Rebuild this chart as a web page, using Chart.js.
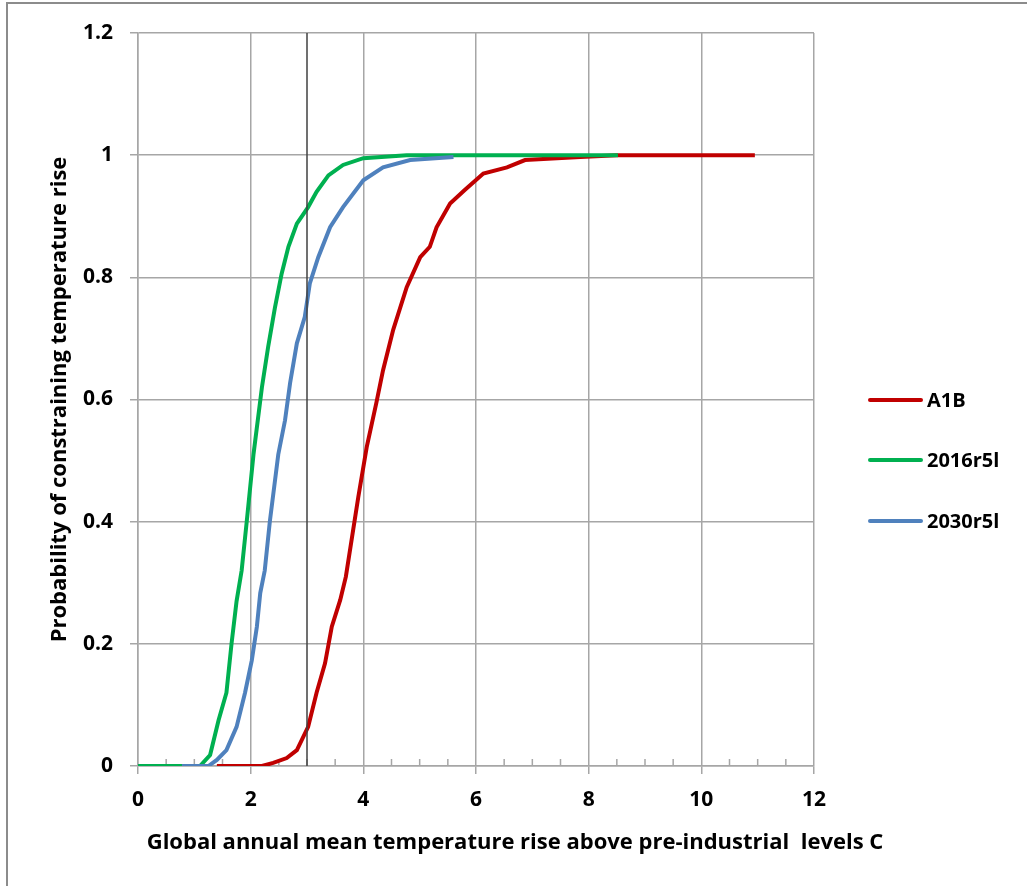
<!DOCTYPE html>
<html>
<head>
<meta charset="utf-8">
<script src="https://cdn.jsdelivr.net/npm/chart.js@4.4.1/dist/chart.umd.min.js"></script>
<style>
  body { margin: 0; background: #fff; }
  canvas { display: block; }
</style>
</head>
<body>
<canvas id="cdf-chart" width="1027" height="886"></canvas>
<script>
// Cumulative probability curves
const seriesNames = ['A1B', '2016r5l', '2030r5l'];
const seriesColors = ['#C00000', '#00B050', '#4F81BD'];

const a1bX = [1.4, 2.2, 2.40, 2.64, 2.82, 3.02, 3.17, 3.32, 3.44, 3.59, 3.69, 3.91, 4.06, 4.23, 4.35, 4.53, 4.77, 5.01, 5.18, 5.30, 5.54, 5.80, 6.13, 6.55, 6.87, 7.85, 8.5, 10.95];
const a1bY = [0, 0, 0.005, 0.013, 0.026, 0.064, 0.12, 0.168, 0.228, 0.272, 0.31, 0.44, 0.522, 0.594, 0.648, 0.714, 0.784, 0.833, 0.85, 0.882, 0.921, 0.943, 0.97, 0.98, 0.992, 0.997, 1, 1];

const r2016X = [0, 1.1, 1.28, 1.43, 1.57, 1.66, 1.75, 1.84, 1.93, 2.05, 2.20, 2.31, 2.43, 2.55, 2.67, 2.82, 3.02, 3.17, 3.38, 3.64, 4.0, 4.77, 8.52];
const r2016Y = [0, 0, 0.018, 0.075, 0.12, 0.20, 0.27, 0.32, 0.40, 0.51, 0.62, 0.686, 0.75, 0.806, 0.85, 0.888, 0.915, 0.94, 0.967, 0.984, 0.995, 1, 1];

const r2030X = [0.78, 1.25, 1.40, 1.57, 1.75, 1.90, 2.02, 2.11, 2.17, 2.25, 2.34, 2.49, 2.61, 2.70, 2.82, 2.96, 3.05, 3.20, 3.41, 3.64, 4.0, 4.35, 4.83, 5.6];
const r2030Y = [0, 0, 0.01, 0.026, 0.064, 0.12, 0.173, 0.228, 0.283, 0.32, 0.40, 0.51, 0.566, 0.627, 0.692, 0.735, 0.79, 0.833, 0.882, 0.915, 0.959, 0.98, 0.992, 0.997];

// vertical marker at 3 degrees
const markerX = [3, 3];
const markerY = [0, 1.2];

const xTitle = 'Global annual mean temperature rise above pre-industrial  levels C';
const yTitle = 'Probability of constraining temperature rise';

const FONT = '"Open Sans", Lato, sans-serif';

function toPoints(xs, ys) {
  return xs.map((x, i) => ({ x: x, y: ys[i] }));
}

// white page with the grey frame on top and left
const framePlugin = {
  id: 'frame',
  beforeDraw(chart) {
    const c = chart.ctx;
    c.save();
    c.fillStyle = '#fff';
    c.fillRect(0, 0, chart.width, chart.height);
    c.fillStyle = '#8c8c8c';
    c.fillRect(6, 2, chart.width - 6, 2);
    c.fillRect(6, 2, 2, chart.height - 2);
    c.restore();
  }
};

// small inner ticks every 0.5 on the x axis
const minorTicks = {
  id: 'minorTicks',
  beforeDatasetsDraw(chart) {
    const xs = chart.scales.x, ys = chart.scales.y;
    const c = chart.ctx;
    const y0 = ys.getPixelForValue(0);
    c.save();
    c.strokeStyle = '#a6a6a6';
    c.lineWidth = 1.5;
    for (let v = 0.5; v < 12; v += 0.5) {
      if (v % 2 === 0) continue;
      const px = xs.getPixelForValue(v);
      c.beginPath();
      c.moveTo(px, y0);
      c.lineTo(px, y0 - 7);
      c.stroke();
    }
    c.restore();
  }
};

// x axis title, centred under the whole figure as in the original
const xTitlePlugin = {
  id: 'xTitle',
  afterDraw(chart) {
    const c = chart.ctx;
    c.save();
    c.font = 'bold 22px ' + FONT;
    c.fillStyle = '#000';
    c.textAlign = 'center';
    c.textBaseline = 'middle';
    c.fillText(xTitle, 515, 843);
    c.restore();
  }
};

// legend drawn at the right like the original
const sideLegend = {
  id: 'sideLegend',
  afterDraw(chart) {
    const c = chart.ctx;
    const rows = [400, 460, 521];
    c.save();
    c.font = 'bold 20px ' + FONT;
    c.textBaseline = 'middle';
    c.textAlign = 'left';
    c.lineCap = 'round';
    seriesNames.forEach((name, i) => {
      c.strokeStyle = seriesColors[i];
      c.lineWidth = 4;
      c.beginPath();
      c.moveTo(870, rows[i]);
      c.lineTo(921, rows[i]);
      c.stroke();
      c.fillStyle = '#000';
      c.fillText(name, 927, rows[i] + 1);
    });
    c.restore();
  }
};

const seriesPoints = [toPoints(a1bX, a1bY), toPoints(r2016X, r2016Y), toPoints(r2030X, r2030Y)];

const datasets = seriesNames.map((name, i) => ({
  label: name,
  data: seriesPoints[i],
  borderColor: seriesColors[i],
  backgroundColor: seriesColors[i],
  borderWidth: 4,
  pointRadius: 0,
  showLine: true,
  tension: 0,
  order: 3 - i
}));

datasets.push({
  label: 'marker',
  data: toPoints(markerX, markerY),
  borderColor: '#404040',
  borderWidth: 1.5,
  pointRadius: 0,
  showLine: true,
  order: 0
});

const tickFont = { family: FONT, size: 21, weight: 'bold' };
const titleFont = { family: FONT, size: 22, weight: 'bold' };

const chart = new Chart(document.getElementById('cdf-chart'), {
  type: 'scatter',
  data: { datasets: datasets },
  options: {
    responsive: false,
    animation: false,
    layout: { padding: { top: 33, right: 213, bottom: 0, left: 0 } },
    plugins: {
      legend: { display: false },
      tooltip: { enabled: false }
    },
    scales: {
      x: {
        type: 'linear',
        min: 0,
        max: 12,
        ticks: { stepSize: 2, color: '#000', font: tickFont, padding: 13, maxRotation: 0 },
        grid: { color: '#a6a6a6', lineWidth: 1.5, tickLength: 8 },
        border: { color: '#a6a6a6', width: 1.5 },
        afterFit(scale) { scale.height = 120; }
      },
      y: {
        min: 0,
        max: 1.2,
        ticks: {
          stepSize: 0.2, color: '#000', font: tickFont, padding: 17,
          callback: v => String(Number(v.toFixed(1)))
        },
        grid: { color: '#a6a6a6', lineWidth: 1.5, tickLength: 8 },
        border: { color: '#a6a6a6', width: 1.5 },
        title: {
          display: true,
          text: yTitle,
          color: '#000',
          font: titleFont,
          padding: { top: 47, bottom: 0 }
        },
        afterFit(scale) { scale.width = 138; }
      }
    }
  },
  plugins: [framePlugin, minorTicks, xTitlePlugin, sideLegend]
});
</script>
</body>
</html>
